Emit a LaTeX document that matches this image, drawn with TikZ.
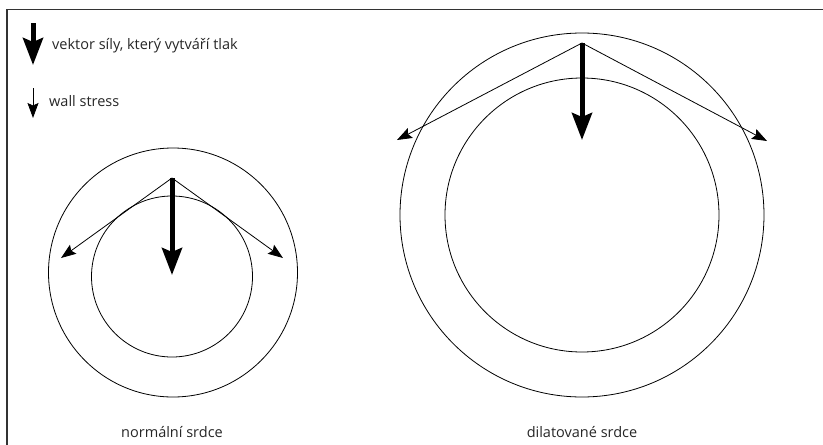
\documentclass[tikz,border=0pt]{standalone}
\usepackage{fontspec}
\setmainfont{Open Sans}
\usetikzlibrary{arrows.meta}
\begin{document}
\begin{tikzpicture}[x=1pt,y=-1pt,
  thickarrow/.style={line width=5pt,-{Stealth[length=27pt,width=20pt,inset=4pt]}},
  thinarrow/.style={line width=0.8pt,-{Stealth[length=15pt,width=11pt,inset=2.5pt]}},
  wall/.style={line width=0.8pt},
  lbl/.style={font=\fontsize{14.5}{16}\selectfont, text=black!85, inner sep=0pt}]
\useasboundingbox (0,0) rectangle (823,445);
% frame (top and left edges)
\draw[line width=1.3pt, black!80] (823,9.5) -- (7,9.5) -- (7,445);
% legend
\coordinate (l1a) at (33,23); \coordinate (l1b) at (33,65);
\coordinate (l2a) at (33,88); \coordinate (l2b) at (33,118);
\draw[thickarrow] (l1a) -- (l1b);
\draw[thinarrow] (l2a) -- (l2b);
\node[lbl, anchor=west] (t1) at (52,46) {vektor síly, který vytváří tlak};
\node[lbl, anchor=west] (t2) at (49,101) {wall stress};
% normal heart
\draw[wall] (173,272.5) circle[radius=124.5];
\draw[wall] (172,276.5) circle[radius=80.5];
\coordinate (na) at (172,178);
\coordinate (nt) at (172,275);
\coordinate (nl) at (61,258);
\coordinate (nr) at (283,258);
\draw[thinarrow] (na) -- (nl);
\draw[thinarrow] (na) -- (nr);
\draw[thickarrow] (na) -- (nt);
\node[lbl] (n1) at (172,432) {normální srdce};
% dilated heart
\draw[wall] (582,215) circle[radius=182];
\draw[wall] (582,215) circle[radius=137];
\coordinate (da) at (582,43);
\coordinate (dt) at (582,140);
\coordinate (dl) at (397,140);
\coordinate (dr) at (767,141);
\draw[thinarrow] (da) -- (dl);
\draw[thinarrow] (da) -- (dr);
\draw[thickarrow] (da) -- (dt);
\node[lbl] (n2) at (582,432) {dilatované srdce};
\end{tikzpicture}
\end{document}
